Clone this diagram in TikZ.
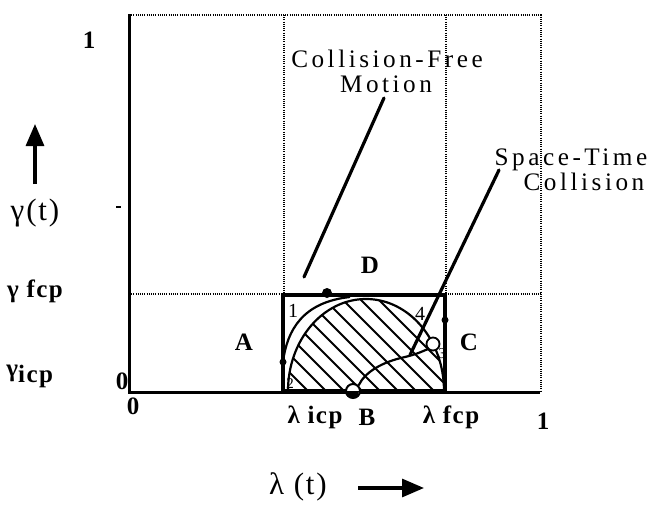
\documentclass[tikz,border=0pt]{standalone}
\usepackage{fontspec}
\setmainfont{Liberation Serif}
\newfontfamily\spacedfont[LetterSpace=14]{Liberation Serif}
\newfontfamily\lblfont[LetterSpace=6]{Liberation Serif}
\usetikzlibrary{arrows.meta}
\begin{document}
\begin{tikzpicture}[x=0.5pt,y=-0.5pt,
  lbl/.style={inner sep=0pt, font=\lblfont\fontsize{12.5}{13}\selectfont\bfseries},
  axl/.style={inner sep=0pt, font=\lblfont\fontsize{15.5}{16}\selectfont},
  txt/.style={inner sep=0pt, anchor=base, text height=8pt, text depth=0pt,
              font=\spacedfont\fontsize{12.6}{13}\selectfont},
  tiny/.style={inner sep=0pt, font=\fontsize{7.5}{8}\selectfont},
  dots/.style={line width=0.7pt, dash pattern=on 0.5pt off 0.6pt},
  axis/.style={line width=1.5pt},
  boxline/.style={line width=2pt, line cap=rect},
  curve/.style={line width=1.1pt},
  hatch/.style={line width=0.9pt},
  leader/.style={line width=1.6pt, line cap=round},
  bigarrow/.style={line width=1.6pt, -{Triangle[length=11pt,width=9pt]}},
  dot/.style={circle, fill=black, inner sep=0pt, minimum size=#1}
]
\useasboundingbox (0,0) rectangle (660,514);

% dotted grid
\draw[dots] (129,15) -- (541,15) -- (541,391);
\draw[dots] (284,15) -- (284,295);
\draw[dots] (446,15) -- (446,295);
\draw[dots] (129,294) -- (541,294);

% axes
\draw[axis] (129,14) -- (129,392) -- (540,392);
\draw[line width=0.8pt] (116,207) -- (121,207);

% hatched half-ellipse
\begin{scope}
  \clip (366,391) ellipse [x radius=78, y radius=92];
  \foreach \b in {200,218,...,560} {
    \draw[hatch] (\b-110,281) -- (\b,391);
  }
\end{scope}
\draw[curve] (444,391) arc[start angle=0, end angle=-180, x radius=78, y radius=92];

% collision-free path
\draw[curve] (283,362) .. controls (287,330) and (303,302) .. (350,297);

% bounding box
\draw[boxline] (283,295) rectangle (445,391);

% dots on edges
\node[dot=5pt] (dtop) at (327,293) {};
\node[dot=3.5pt] (dright) at (445,320) {};
\node[dot=3.5pt] (dleft) at (283,362) {};

% collision path
\node[circle, draw, fill=white, line width=0.9pt, minimum size=6.5pt, inner sep=0pt] (c3) at (433,344) {};
\node[circle, draw, fill=white, line width=1pt, minimum size=7pt, inner sep=0pt] (cB) at (353,391) {};
\fill (cB.west) arc[start angle=180, end angle=0, radius=7] -- cycle;
\draw[curve] (cB.north east) .. controls (365,372) and (382,362) .. (405,357)
   .. controls (418,354) and (425,350) .. (c3.south west);

% corner numbers
\node[tiny, font=\fontsize{10}{10}\selectfont] (n1) at (293,311) {1};
\node[tiny, font=\fontsize{10}{10}\selectfont] (n4) at (420,314) {4};
\node[tiny] (n3) at (442,354) {3};
\node[tiny] (n2) at (290,384) {2};

% leaders
\coordinate (cf1) at (384,98);
\coordinate (cf2) at (304,277);
\coordinate (st1) at (499,170);
\coordinate (st2) at (410,355);
\draw[leader] (cf1) -- (cf2);
\draw[leader] (st1) -- (st2);

% texts
\node[txt] (cfm1) at (387,68) {Collision-Free};
\node[txt] (cfm2) at (386,92) {Motion};
\node[txt] (stc1) at (571,165) {Space-Time};
\node[txt] (stc2) at (584,190) {Collision};

\node[lbl] (lA) at (244,342) {A};
\node[lbl] (lB) at (367,417) {B};
\node[lbl] (lC) at (469,342) {C};
\node[lbl] (lD) at (370,265) {D};

\node[lbl] (y1) at (89,40) {1};
\node[lbl] (y0) at (122,381) {0};
\node[lbl] (x0) at (133,406) {0};
\node[lbl] (x1) at (543,421) {1};
\node[lbl] (licp) at (315,417) {λ icp};
\node[lbl] (lfcp) at (451,417) {λ fcp};
\node[lbl] (gfcp) at (35,291) {γ fcp};
\node[lbl, anchor=west] (gicp) at (6,376) {γ\raisebox{-0.45ex}{icp}};

\node[axl] (gt) at (35,213) {γ(t)};
\node[axl] (lt) at (298,487) {λ (t)};
\coordinate (ga1) at (35,184);
\coordinate (ga2) at (35,124);
\coordinate (la1) at (358,488);
\coordinate (la2) at (424,488);
\draw[bigarrow] (ga1) -- (ga2);
\draw[bigarrow] (la1) -- (la2);
\end{tikzpicture}
\end{document}
